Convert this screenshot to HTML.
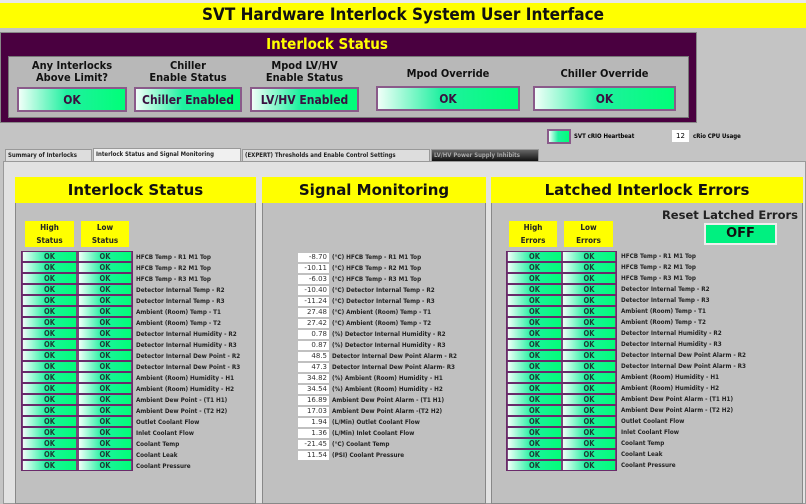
<!DOCTYPE html>
<html><head><meta charset="utf-8"><style>
*{margin:0;padding:0;box-sizing:border-box}
body{width:806px;height:504px;overflow:hidden;background:#c4c4c4;font-family:"DejaVu Sans","Liberation Sans",sans-serif;position:relative}
.a{position:absolute}
.c{font-family:"DejaVu Sans Condensed","Liberation Sans Narrow","DejaVu Sans",sans-serif}
.y{background:#ffff00}
.led{position:absolute;border:1px solid #7a3a7a;background:linear-gradient(to right,#f0fff8,#20f0a0 45%,#00ff78);color:#1c3c34;font-weight:bold;text-align:center;font-family:"DejaVu Sans Condensed","DejaVu Sans",sans-serif}
.big{font-size:12px;line-height:22px;height:25px;color:#3a1040;border:2px solid #8a5a8a}
.r{position:absolute;height:11px;font-size:6.3px;font-weight:bold;line-height:11px;color:#222;white-space:nowrap;font-family:"DejaVu Sans Condensed","DejaVu Sans",sans-serif}
.ro{position:absolute;height:11px;border:1px solid #6a2a6a;background:#7a4a7a}
.ro .led{top:0;height:9px;font-size:7.5px;line-height:9px;border:none}
.v{position:absolute;width:31px;height:9px;background:#fff;font-size:7px;line-height:9px;text-align:right;padding-right:2px;color:#333}
.tab{position:absolute;top:149px;height:13px;font-size:6px;line-height:12px;font-weight:bold;padding:0 2px;border:1px solid #999;background:#ddd;color:#222;white-space:nowrap;overflow:hidden;font-family:"DejaVu Sans Condensed","DejaVu Sans",sans-serif}
.ph{position:absolute;top:177px;height:26px;background:#ffff00;font-size:15px;font-weight:bold;text-align:center;line-height:26px;color:#111}
.pb{position:absolute;top:203px;height:301px;background:#c0c0c0;border:1px solid #888;border-top:none}
.yb{position:absolute;background:#ffff00;font-size:8px;text-align:center;line-height:13px;color:#222;font-weight:bold;font-family:"DejaVu Sans Condensed","DejaVu Sans",sans-serif}
.hl{position:absolute;text-align:center;font-size:11px;font-weight:bold;line-height:12px;color:#111;font-family:"DejaVu Sans Condensed","DejaVu Sans",sans-serif}
</style></head><body>
<div class="a" style="left:0;top:0;width:806px;height:3px;background:#e8e8e8"></div>
<div class="a y c" style="left:0;top:3px;width:806px;height:25px;font-size:17px;font-weight:bold;text-align:center;line-height:25px;color:#111">SVT Hardware Interlock System User Interface</div>
<div class="a" style="left:0;top:32px;width:697px;height:91px;background:#4a0040;border:1px solid #888"></div>
<div class="a c" style="left:0;top:34px;width:654px;text-align:center;font-size:15px;font-weight:bold;color:#ffff00;line-height:20px">Interlock Status</div>
<div class="a" style="left:8px;top:56px;width:681px;height:62px;background:#b8b8b8;border:1px solid #777"></div>
<div class="hl" style="left:17px;top:60px;width:110px">Any Interlocks<br>Above Limit?</div>
<div class="hl" style="left:134px;top:60px;width:108px">Chiller<br>Enable Status</div>
<div class="hl" style="left:250px;top:60px;width:109px">Mpod LV/HV<br>Enable Status</div>
<div class="hl" style="left:376px;top:68px;width:144px">Mpod Override</div>
<div class="hl" style="left:533px;top:68px;width:143px">Chiller Override</div>
<div class="led big" style="left:17px;top:87px;width:110px">OK</div>
<div class="led big" style="left:134px;top:87px;width:108px">Chiller Enabled</div>
<div class="led big" style="left:250px;top:87px;width:109px">LV/HV Enabled</div>
<div class="led big" style="left:376px;top:86px;width:144px">OK</div>
<div class="led big" style="left:533px;top:86px;width:143px">OK</div>
<div class="led" style="left:547px;top:129px;width:24px;height:15px;border:2px solid #8a5a8a"></div>
<div class="a c" style="left:574px;top:133px;font-size:6px;font-weight:bold">SVT cRIO Heartbeat</div>
<div class="a" style="left:672px;top:130px;width:17px;height:12px;background:#fff;font-size:7px;text-align:center;line-height:12px">12</div>
<div class="a c" style="left:693px;top:133px;font-size:6px;font-weight:bold">cRio CPU Usage</div>
<div class="a" style="left:3px;top:161px;width:803px;height:343px;background:#e2e2e2;border:1px solid #999"></div>
<div class="tab" style="left:5px;width:87px">Summary of Interlocks</div>
<div class="tab" style="left:93px;width:148px;background:#f0f0f0;top:148px;height:14px">Interlock Status and Signal Monitoring</div>
<div class="tab" style="left:242px;width:188px">(EXPERT) Thresholds and Enable Control Settings</div>
<div class="tab" style="left:431px;width:108px;background:linear-gradient(#666,#111);color:#aaa">LV/HV Power Supply Inhibits</div>

<div class="ph" style="left:15px;width:241px">Interlock Status</div>
<div class="pb" style="left:15px;width:241px"></div>
<div class="ph" style="left:262px;width:224px">Signal Monitoring</div>
<div class="pb" style="left:262px;width:224px"></div>
<div class="ph" style="left:491px;width:312px">Latched Interlock Errors</div>
<div class="pb" style="left:491px;width:312px"></div>

<div class="yb" style="left:25px;top:221px;width:49px;height:26px">High<br>Status</div>
<div class="yb" style="left:81px;top:221px;width:48px;height:26px">Low<br>Status</div>
<div class="yb" style="left:509px;top:221px;width:48px;height:26px">High<br>Errors</div>
<div class="yb" style="left:564px;top:221px;width:49px;height:26px">Low<br>Errors</div>
<div class="a" style="left:620px;top:208px;width:178px;text-align:right;font-size:11.5px;font-weight:bold;color:#222">Reset Latched Errors</div>
<div class="a" style="left:704px;top:223px;width:73px;height:22px;background:#00f080;border:2px solid #eee;font-size:13px;font-weight:bold;text-align:center;line-height:18px;color:#111">OFF</div>

<!-- left rows -->
<div class="ro" style="left:21px;top:251px;width:112px"><div class="led" style="left:1px;width:53px">OK</div><div class="led" style="left:57px;width:52px">OK</div></div>
<div class="ro" style="left:21px;top:262px;width:112px"><div class="led" style="left:1px;width:53px">OK</div><div class="led" style="left:57px;width:52px">OK</div></div>
<div class="ro" style="left:21px;top:273px;width:112px"><div class="led" style="left:1px;width:53px">OK</div><div class="led" style="left:57px;width:52px">OK</div></div>
<div class="ro" style="left:21px;top:284px;width:112px"><div class="led" style="left:1px;width:53px">OK</div><div class="led" style="left:57px;width:52px">OK</div></div>
<div class="ro" style="left:21px;top:295px;width:112px"><div class="led" style="left:1px;width:53px">OK</div><div class="led" style="left:57px;width:52px">OK</div></div>
<div class="ro" style="left:21px;top:306px;width:112px"><div class="led" style="left:1px;width:53px">OK</div><div class="led" style="left:57px;width:52px">OK</div></div>
<div class="ro" style="left:21px;top:317px;width:112px"><div class="led" style="left:1px;width:53px">OK</div><div class="led" style="left:57px;width:52px">OK</div></div>
<div class="ro" style="left:21px;top:328px;width:112px"><div class="led" style="left:1px;width:53px">OK</div><div class="led" style="left:57px;width:52px">OK</div></div>
<div class="ro" style="left:21px;top:339px;width:112px"><div class="led" style="left:1px;width:53px">OK</div><div class="led" style="left:57px;width:52px">OK</div></div>
<div class="ro" style="left:21px;top:350px;width:112px"><div class="led" style="left:1px;width:53px">OK</div><div class="led" style="left:57px;width:52px">OK</div></div>
<div class="ro" style="left:21px;top:361px;width:112px"><div class="led" style="left:1px;width:53px">OK</div><div class="led" style="left:57px;width:52px">OK</div></div>
<div class="ro" style="left:21px;top:372px;width:112px"><div class="led" style="left:1px;width:53px">OK</div><div class="led" style="left:57px;width:52px">OK</div></div>
<div class="ro" style="left:21px;top:383px;width:112px"><div class="led" style="left:1px;width:53px">OK</div><div class="led" style="left:57px;width:52px">OK</div></div>
<div class="ro" style="left:21px;top:394px;width:112px"><div class="led" style="left:1px;width:53px">OK</div><div class="led" style="left:57px;width:52px">OK</div></div>
<div class="ro" style="left:21px;top:405px;width:112px"><div class="led" style="left:1px;width:53px">OK</div><div class="led" style="left:57px;width:52px">OK</div></div>
<div class="ro" style="left:21px;top:416px;width:112px"><div class="led" style="left:1px;width:53px">OK</div><div class="led" style="left:57px;width:52px">OK</div></div>
<div class="ro" style="left:21px;top:427px;width:112px"><div class="led" style="left:1px;width:53px">OK</div><div class="led" style="left:57px;width:52px">OK</div></div>
<div class="ro" style="left:21px;top:438px;width:112px"><div class="led" style="left:1px;width:53px">OK</div><div class="led" style="left:57px;width:52px">OK</div></div>
<div class="ro" style="left:21px;top:449px;width:112px"><div class="led" style="left:1px;width:53px">OK</div><div class="led" style="left:57px;width:52px">OK</div></div>
<div class="ro" style="left:21px;top:460px;width:112px"><div class="led" style="left:1px;width:53px">OK</div><div class="led" style="left:57px;width:52px">OK</div></div>
<div class="r" style="left:136px;top:252px">HFCB Temp - R1 M1 Top</div>
<div class="r" style="left:136px;top:263px">HFCB Temp - R2 M1 Top</div>
<div class="r" style="left:136px;top:274px">HFCB Temp - R3 M1 Top</div>
<div class="r" style="left:136px;top:285px">Detector Internal Temp - R2</div>
<div class="r" style="left:136px;top:296px">Detector Internal Temp - R3</div>
<div class="r" style="left:136px;top:307px">Ambient (Room) Temp - T1</div>
<div class="r" style="left:136px;top:318px">Ambient (Room) Temp - T2</div>
<div class="r" style="left:136px;top:329px">Detector Internal Humidity - R2</div>
<div class="r" style="left:136px;top:340px">Detector Internal Humidity - R3</div>
<div class="r" style="left:136px;top:351px">Detector Internal Dew Point - R2</div>
<div class="r" style="left:136px;top:362px">Detector Internal Dew Point - R3</div>
<div class="r" style="left:136px;top:373px">Ambient (Room) Humidity - H1</div>
<div class="r" style="left:136px;top:384px">Ambient (Room) Humidity - H2</div>
<div class="r" style="left:136px;top:395px">Ambient Dew Point - (T1 H1)</div>
<div class="r" style="left:136px;top:406px">Ambient Dew Point - (T2 H2)</div>
<div class="r" style="left:136px;top:417px">Outlet Coolant Flow</div>
<div class="r" style="left:136px;top:428px">Inlet Coolant Flow</div>
<div class="r" style="left:136px;top:439px">Coolant Temp</div>
<div class="r" style="left:136px;top:450px">Coolant Leak</div>
<div class="r" style="left:136px;top:461px">Coolant Pressure</div>

<!-- signal -->
<div class="v" style="left:298px;top:253px">-8.70</div><div class="r" style="left:332px;top:252px">(°C) HFCB Temp - R1 M1 Top</div>
<div class="v" style="left:298px;top:264px">-10.11</div><div class="r" style="left:332px;top:263px">(°C) HFCB Temp - R2 M1 Top</div>
<div class="v" style="left:298px;top:275px">-6.03</div><div class="r" style="left:332px;top:274px">(°C) HFCB Temp - R3 M1 Top</div>
<div class="v" style="left:298px;top:286px">-10.40</div><div class="r" style="left:332px;top:285px">(°C) Detector Internal Temp - R2</div>
<div class="v" style="left:298px;top:297px">-11.24</div><div class="r" style="left:332px;top:296px">(°C) Detector Internal Temp - R3</div>
<div class="v" style="left:298px;top:308px">27.48</div><div class="r" style="left:332px;top:307px">(°C) Ambient (Room) Temp - T1</div>
<div class="v" style="left:298px;top:319px">27.42</div><div class="r" style="left:332px;top:318px">(°C) Ambient (Room) Temp - T2</div>
<div class="v" style="left:298px;top:330px">0.78</div><div class="r" style="left:332px;top:329px">(%) Detector Internal Humidity - R2</div>
<div class="v" style="left:298px;top:341px">0.87</div><div class="r" style="left:332px;top:340px">(%) Detector Internal Humidity - R3</div>
<div class="v" style="left:298px;top:352px">48.5</div><div class="r" style="left:332px;top:351px">Detector Internal Dew Point Alarm - R2</div>
<div class="v" style="left:298px;top:363px">47.3</div><div class="r" style="left:332px;top:362px">Detector Internal Dew Point Alarm- R3</div>
<div class="v" style="left:298px;top:374px">34.82</div><div class="r" style="left:332px;top:373px">(%) Ambient (Room) Humidity - H1</div>
<div class="v" style="left:298px;top:385px">34.54</div><div class="r" style="left:332px;top:384px">(%) Ambient (Room) Humidity - H2</div>
<div class="v" style="left:298px;top:396px">16.89</div><div class="r" style="left:332px;top:395px">Ambient Dew Point Alarm - (T1 H1)</div>
<div class="v" style="left:298px;top:407px">17.03</div><div class="r" style="left:332px;top:406px">Ambient Dew Point Alarm -(T2 H2)</div>
<div class="v" style="left:298px;top:418px">1.94</div><div class="r" style="left:332px;top:417px">(L/Min) Outlet Coolant Flow</div>
<div class="v" style="left:298px;top:429px">1.36</div><div class="r" style="left:332px;top:428px">(L/Min) Inlet Coolant Flow</div>
<div class="v" style="left:298px;top:440px">-21.45</div><div class="r" style="left:332px;top:439px">(°C) Coolant Temp</div>
<div class="v" style="left:298px;top:451px">11.54</div><div class="r" style="left:332px;top:450px">(PSI) Coolant Pressure</div>

<!-- latched rows -->
<div class="ro" style="left:506px;top:251px;width:111px"><div class="led" style="left:1px;width:53px">OK</div><div class="led" style="left:56px;width:52px">OK</div></div>
<div class="ro" style="left:506px;top:262px;width:111px"><div class="led" style="left:1px;width:53px">OK</div><div class="led" style="left:56px;width:52px">OK</div></div>
<div class="ro" style="left:506px;top:273px;width:111px"><div class="led" style="left:1px;width:53px">OK</div><div class="led" style="left:56px;width:52px">OK</div></div>
<div class="ro" style="left:506px;top:284px;width:111px"><div class="led" style="left:1px;width:53px">OK</div><div class="led" style="left:56px;width:52px">OK</div></div>
<div class="ro" style="left:506px;top:295px;width:111px"><div class="led" style="left:1px;width:53px">OK</div><div class="led" style="left:56px;width:52px">OK</div></div>
<div class="ro" style="left:506px;top:306px;width:111px"><div class="led" style="left:1px;width:53px">OK</div><div class="led" style="left:56px;width:52px">OK</div></div>
<div class="ro" style="left:506px;top:317px;width:111px"><div class="led" style="left:1px;width:53px">OK</div><div class="led" style="left:56px;width:52px">OK</div></div>
<div class="ro" style="left:506px;top:328px;width:111px"><div class="led" style="left:1px;width:53px">OK</div><div class="led" style="left:56px;width:52px">OK</div></div>
<div class="ro" style="left:506px;top:339px;width:111px"><div class="led" style="left:1px;width:53px">OK</div><div class="led" style="left:56px;width:52px">OK</div></div>
<div class="ro" style="left:506px;top:350px;width:111px"><div class="led" style="left:1px;width:53px">OK</div><div class="led" style="left:56px;width:52px">OK</div></div>
<div class="ro" style="left:506px;top:361px;width:111px"><div class="led" style="left:1px;width:53px">OK</div><div class="led" style="left:56px;width:52px">OK</div></div>
<div class="ro" style="left:506px;top:372px;width:111px"><div class="led" style="left:1px;width:53px">OK</div><div class="led" style="left:56px;width:52px">OK</div></div>
<div class="ro" style="left:506px;top:383px;width:111px"><div class="led" style="left:1px;width:53px">OK</div><div class="led" style="left:56px;width:52px">OK</div></div>
<div class="ro" style="left:506px;top:394px;width:111px"><div class="led" style="left:1px;width:53px">OK</div><div class="led" style="left:56px;width:52px">OK</div></div>
<div class="ro" style="left:506px;top:405px;width:111px"><div class="led" style="left:1px;width:53px">OK</div><div class="led" style="left:56px;width:52px">OK</div></div>
<div class="ro" style="left:506px;top:416px;width:111px"><div class="led" style="left:1px;width:53px">OK</div><div class="led" style="left:56px;width:52px">OK</div></div>
<div class="ro" style="left:506px;top:427px;width:111px"><div class="led" style="left:1px;width:53px">OK</div><div class="led" style="left:56px;width:52px">OK</div></div>
<div class="ro" style="left:506px;top:438px;width:111px"><div class="led" style="left:1px;width:53px">OK</div><div class="led" style="left:56px;width:52px">OK</div></div>
<div class="ro" style="left:506px;top:449px;width:111px"><div class="led" style="left:1px;width:53px">OK</div><div class="led" style="left:56px;width:52px">OK</div></div>
<div class="ro" style="left:506px;top:460px;width:111px"><div class="led" style="left:1px;width:53px">OK</div><div class="led" style="left:56px;width:52px">OK</div></div>
<div class="r" style="left:621px;top:251px">HFCB Temp - R1 M1 Top</div>
<div class="r" style="left:621px;top:262px">HFCB Temp - R2 M1 Top</div>
<div class="r" style="left:621px;top:273px">HFCB Temp - R3 M1 Top</div>
<div class="r" style="left:621px;top:284px">Detector Internal Temp - R2</div>
<div class="r" style="left:621px;top:295px">Detector Internal Temp - R3</div>
<div class="r" style="left:621px;top:306px">Ambient (Room) Temp - T1</div>
<div class="r" style="left:621px;top:317px">Ambient (Room) Temp - T2</div>
<div class="r" style="left:621px;top:328px">Detector Internal Humidity - R2</div>
<div class="r" style="left:621px;top:339px">Detector Internal Humidity - R3</div>
<div class="r" style="left:621px;top:350px">Detector Internal Dew Point Alarm - R2</div>
<div class="r" style="left:621px;top:361px">Detector Internal Dew Point Alarm - R3</div>
<div class="r" style="left:621px;top:372px">Ambient (Room) Humidity - H1</div>
<div class="r" style="left:621px;top:383px">Ambient (Room) Humidity - H2</div>
<div class="r" style="left:621px;top:394px">Ambient Dew Point Alarm - (T1 H1)</div>
<div class="r" style="left:621px;top:405px">Ambient Dew Point Alarm - (T2 H2)</div>
<div class="r" style="left:621px;top:416px">Outlet Coolant Flow</div>
<div class="r" style="left:621px;top:427px">Inlet Coolant Flow</div>
<div class="r" style="left:621px;top:438px">Coolant Temp</div>
<div class="r" style="left:621px;top:449px">Coolant Leak</div>
<div class="r" style="left:621px;top:460px">Coolant Pressure</div>
</body></html>
